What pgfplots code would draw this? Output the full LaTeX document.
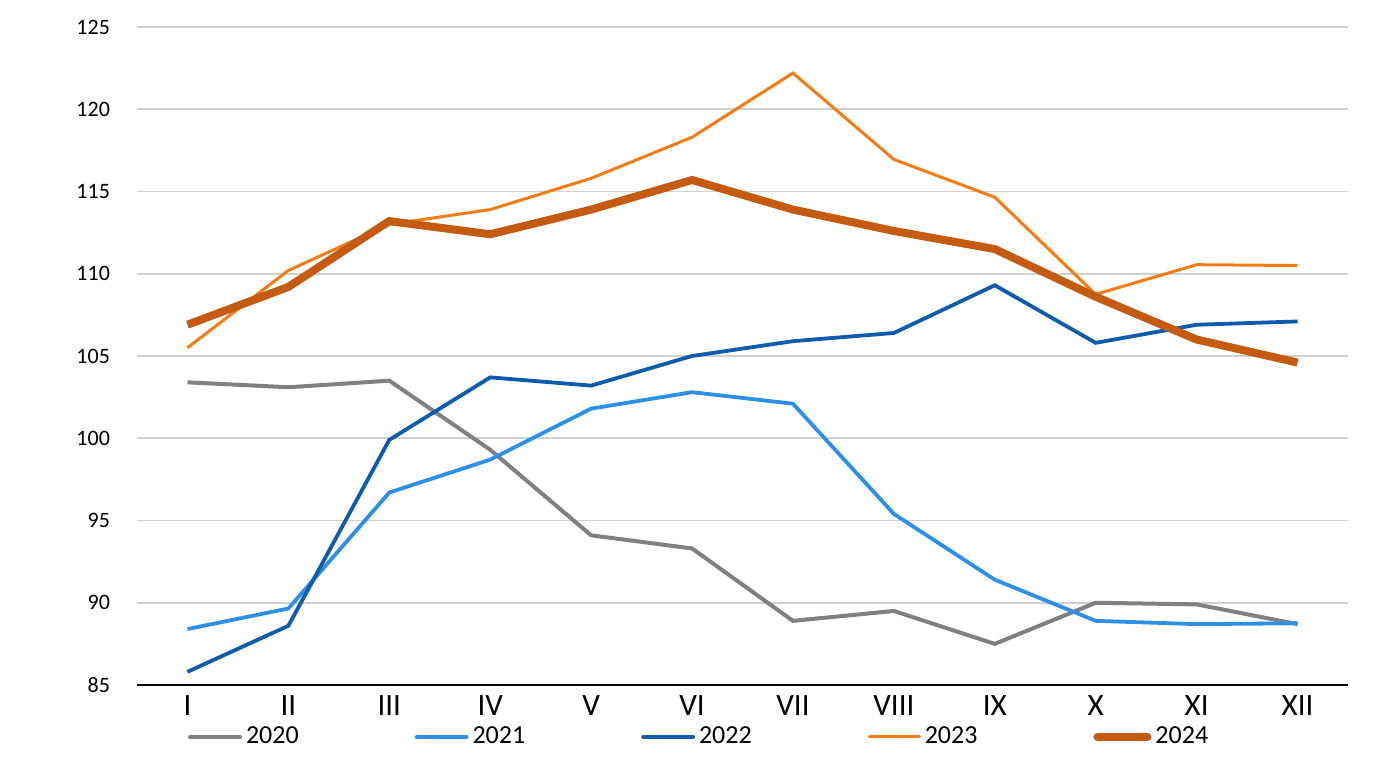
\documentclass[border=0pt]{standalone}
\usepackage{fontspec}
\setmainfont{Carlito}
\usepackage{pgfplots}
\pgfplotsset{compat=1.18}
\definecolor{c20}{RGB}{128,128,128}
\definecolor{c21}{RGB}{46,143,230}
\definecolor{c22}{RGB}{14,92,173}
\definecolor{c23}{RGB}{245,124,20}
\definecolor{c24}{RGB}{197,90,17}
\definecolor{gridc}{RGB}{208,208,208}
\begin{document}
\begin{tikzpicture}
\useasboundingbox (0,0) rectangle (700pt,385pt);
\begin{axis}[
    at={(68.5pt,42.5pt)}, anchor=south west,
    scale only axis, width=605.5pt, height=329pt,
    xmin=-0.5, xmax=11.5, ymin=85, ymax=125,
    axis x line*=bottom, axis y line*=left,
    y axis line style={draw=none},
    x axis line style={black, line width=0.8pt},
    xtick={0,...,11},
    xticklabels={I,II,III,IV,V,VI,VII,VIII,IX,X,XI,XII},
    xticklabel style={font=\fontsize{15.5}{17}\selectfont, yshift=-2pt},
    x tick style={draw=none},
    extra x ticks={-0.5,0.5,...,11.5},
    extra x tick labels={},
    extra x tick style={grid=none, major tick length=5pt, tick align=outside,
        tick style={black, line width=0.8pt}},
    ytick={85,90,...,125},
    ymajorgrids, grid style={gridc, line width=0.8pt},
    y tick style={draw=none},
    yticklabel style={font=\fontsize{11}{13}\selectfont, anchor=east, xshift=-10pt},
    /pgf/number format/assume math mode=true,
    legend columns=5,
    legend style={at={(axis description cs:0.465,-0.079)}, anchor=center,
        draw=none, fill=none, font=\fontsize{13}{15}\selectfont,
        /tikz/every even column/.append style={column sep=56pt},
        inner sep=0pt},
    legend image code/.code={\draw[#1, line cap=round] (0pt,0pt) -- (25pt,0pt);},
]
\addplot[c20, line width=2pt] coordinates {(0,103.4) (1,103.1) (2,103.5) (3,99.3) (4,94.1) (5,93.3) (6,88.9) (7,89.5) (8,87.5) (9,90.0) (10,89.9) (11,88.7)};
\addplot[c21, line width=1.9pt] coordinates {(0,88.4) (1,89.65) (2,96.7) (3,98.7) (4,101.8) (5,102.8) (6,102.1) (7,95.4) (8,91.4) (9,88.9) (10,88.7) (11,88.75)};
\addplot[c22, line width=1.9pt] coordinates {(0,85.8) (1,88.6) (2,99.9) (3,103.7) (4,103.2) (5,105.0) (6,105.9) (7,106.4) (8,109.3) (9,105.8) (10,106.9) (11,107.1)};
\addplot[c23, line width=1.5pt] coordinates {(0,105.5) (1,110.2) (2,113.0) (3,113.9) (4,115.8) (5,118.3) (6,122.2) (7,116.95) (8,114.65) (9,108.75) (10,110.55) (11,110.5)};
\addplot[c24, line width=4pt] coordinates {(0,106.9) (1,109.2) (2,113.2) (3,112.4) (4,113.9) (5,115.7) (6,113.9) (7,112.6) (8,111.5) (9,108.6) (10,106.0) (11,104.6)};
\legend{2020,2021,2022,2023,2024}
\end{axis}
\end{tikzpicture}
\end{document}
